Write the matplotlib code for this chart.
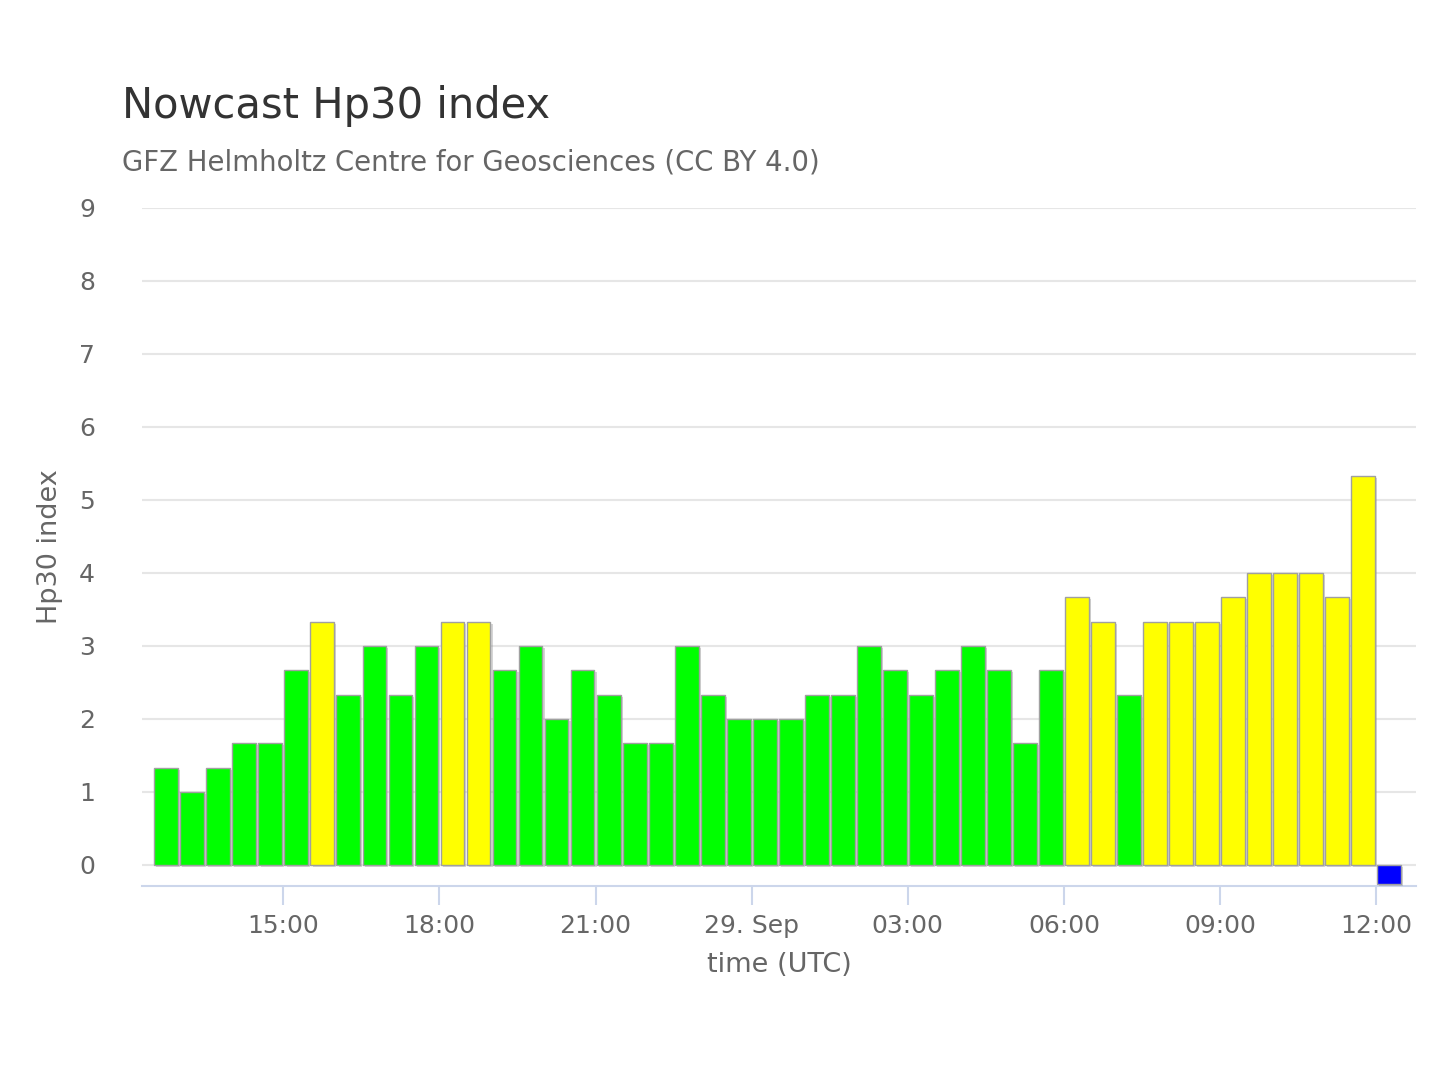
import matplotlib
matplotlib.use("Agg")
import matplotlib.pyplot as plt
import matplotlib.dates as mdates
import matplotlib.patheffects as pe
import pandas as pd

# Hp30 values, one per half hour, starting 28 Sep 12:45 UTC (bar centres)
start_time = "2023-09-28 12:45"
hp30 = [1.333, 1.0, 1.333, 1.667, 1.667, 2.667, 3.333, 2.333, 3.0, 2.333,
        3.0, 3.333, 3.333, 2.667, 3.0, 2.0, 2.667, 2.333, 1.667, 1.667,
        3.0, 2.333, 2.0, 2.0, 2.0, 2.333, 2.333, 3.0, 2.667, 2.333,
        2.667, 3.0, 2.667, 1.667, 2.667, 3.667, 3.333, 2.333, 3.333, 3.333,
        3.333, 3.667, 4.0, 4.0, 4.0, 3.667, 5.333, -0.26]
tick_labels = ["15:00", "18:00", "21:00", "29. Sep", "03:00", "06:00", "09:00", "12:00"]

times = pd.date_range(start_time, periods=len(hp30), freq="30min")

def bar_color(v):
    if v < 0:
        return "#0000ff"
    if v >= 3.3:
        return "#ffff00"
    return "#00ff00"

colors = [bar_color(v) for v in hp30]

plt.rcParams["font.family"] = ["DejaVu Sans"]

fig = plt.figure(figsize=(14.4, 10.8), dpi=100)
ax = fig.add_axes([142 / 1440, 1 - 886 / 1080, 1274 / 1440, 678 / 1080])

width = pd.Timedelta(minutes=27.5) / pd.Timedelta(days=1)
bars = ax.bar(mdates.date2num(times), hp30, width=width, color=colors,
              edgecolor="#a0a0a0", linewidth=1.0, zorder=3)
for b in bars:
    b.set_path_effects([pe.SimplePatchShadow(offset=(1.5, -1.5), shadow_rgbFace="#888888", alpha=0.35),
                        pe.Normal()])

ax.set_ylim(-0.29, 9)
ax.set_yticks(range(0, 10))
ax.yaxis.grid(True, color="#e6e6e6", linewidth=1.5, zorder=0)
ax.tick_params(axis="y", length=0, pad=34, labelsize=18, labelcolor="#666666")

x0 = mdates.date2num(pd.Timestamp("2023-09-28 12:17"))
x1 = mdates.date2num(pd.Timestamp("2023-09-29 12:46"))
ax.set_xlim(x0, x1)
tick_times = pd.date_range("2023-09-28 15:00", periods=len(tick_labels), freq="3h")
ax.set_xticks(mdates.date2num(tick_times))
ax.set_xticklabels(tick_labels)
ax.tick_params(axis="x", length=14, width=1.5, color="#ccd6eb", pad=6,
               labelsize=18, labelcolor="#666666")

for s in ["top", "right", "left"]:
    ax.spines[s].set_visible(False)
ax.spines["bottom"].set_color("#ccd6eb")
ax.spines["bottom"].set_linewidth(1.5)

ax.set_ylabel("Hp30 index", fontsize=19.5, color="#666666", labelpad=11)
ax.set_xlabel("time (UTC)", fontsize=19.5, color="#666666", labelpad=10)

fig.text(122 / 1440, 1 - 118 / 1080, "Nowcast Hp30 index", fontsize=30, color="#333333")
fig.text(122 / 1440, 1 - 170 / 1080, "GFZ Helmholtz Centre for Geosciences (CC BY 4.0)",
         fontsize=19.8, color="#666666")

fig.savefig("out.png", dpi=100, facecolor="white")
